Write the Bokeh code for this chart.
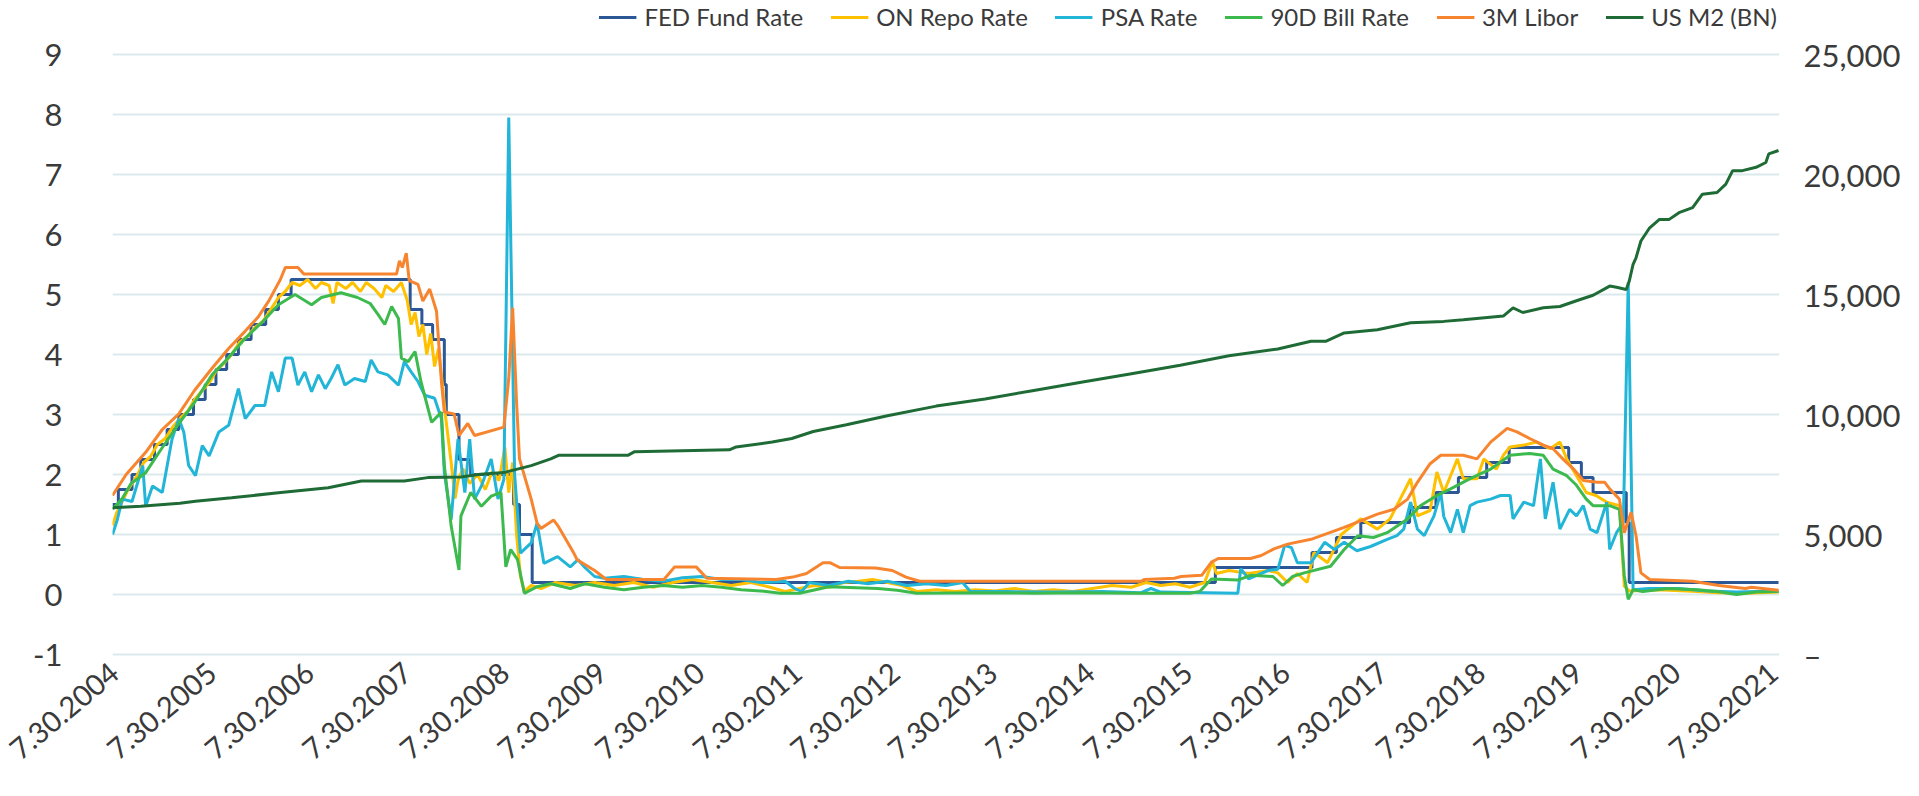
from math import pi
from bokeh.plotting import figure
from bokeh.models import Range1d, LinearAxis, FixedTicker, Legend, LegendItem
from bokeh.embed import file_html
from bokeh.resources import INLINE

# ---- x positions are decimal years ----
fed_t = [2004.56, 2004.62, 2004.76, 2004.85, 2004.99, 2005.12, 2005.24, 2005.39, 2005.51, 2005.62,
         2005.73, 2005.85, 2005.98, 2006.13, 2006.26, 2006.39, 2007.61, 2007.73, 2007.84, 2007.96,
         2007.98, 2008.11, 2008.23, 2008.67, 2008.73, 2008.86, 2015.86, 2016.85, 2017.10, 2017.35,
         2017.85, 2018.12, 2018.35, 2018.64, 2018.87, 2019.48, 2019.61, 2019.73, 2020.07, 2020.10, 2021.63]
fed_v = [1.5, 1.75, 2.0, 2.25, 2.5, 2.75, 3.0, 3.25, 3.5, 3.75,
         4.0, 4.25, 4.5, 4.75, 5.0, 5.25, 4.75, 4.5, 4.25, 3.5,
         3.0, 2.25, 2.0, 1.5, 1.0, 0.2, 0.45, 0.7, 0.95, 1.2,
         1.45, 1.7, 1.95, 2.2, 2.45, 2.2, 1.95, 1.7, 1.2, 0.2, 0.2]

repo_t = [2004.56, 2004.60, 2004.66, 2004.72, 2004.80, 2004.88, 2004.95, 2005.02, 2005.10, 2005.18,
          2005.26, 2005.33, 2005.40, 2005.48, 2005.56, 2005.63, 2005.70, 2005.78, 2005.86, 2005.94,
          2006.02, 2006.10, 2006.18, 2006.26, 2006.33, 2006.40, 2006.48, 2006.56, 2006.64, 2006.70,
          2006.78, 2006.82, 2006.86, 2006.95, 2007.02, 2007.10, 2007.16, 2007.24, 2007.32, 2007.36,
          2007.44, 2007.52, 2007.58, 2007.62, 2007.66, 2007.70, 2007.74, 2007.78, 2007.82, 2007.86,
          2007.90, 2007.94, 2007.97, 2008.00, 2008.03, 2008.07, 2008.10, 2008.15, 2008.22, 2008.30,
          2008.38, 2008.45, 2008.52, 2008.58, 2008.62, 2008.66, 2008.70, 2008.74, 2008.78, 2008.85,
          2008.95, 2009.10, 2009.30, 2009.50, 2009.70, 2009.90, 2010.10, 2010.30, 2010.50, 2010.70,
          2010.90, 2011.10, 2011.30, 2011.45, 2011.60, 2011.75, 2011.90, 2012.05, 2012.20, 2012.35,
          2012.50, 2012.65, 2012.80, 2013.00, 2013.20, 2013.40, 2013.60, 2013.80, 2014.00, 2014.20,
          2014.40, 2014.60, 2014.80, 2015.00, 2015.15, 2015.30, 2015.45, 2015.60, 2015.75, 2015.83,
          2015.87, 2016.00, 2016.20, 2016.40, 2016.50, 2016.60, 2016.70, 2016.80, 2016.87, 2017.01,
          2017.15, 2017.35, 2017.52, 2017.65, 2017.86, 2017.93, 2018.06, 2018.13, 2018.20, 2018.34,
          2018.40, 2018.54, 2018.61, 2018.74, 2018.81, 2018.88, 2019.02, 2019.15, 2019.29, 2019.39,
          2019.46, 2019.56, 2019.66, 2019.76, 2019.87, 2020.00, 2020.05, 2020.10, 2020.40, 2020.80,
          2021.00, 2021.30, 2021.63]
repo_v = [1.15, 1.35, 1.55, 1.75, 1.95, 2.2, 2.3, 2.5, 2.6, 2.8,
          2.95, 3.05, 3.25, 3.4, 3.55, 3.75, 3.85, 4.0, 4.2, 4.3,
          4.45, 4.55, 4.75, 4.95, 5.05, 5.2, 5.15, 5.25, 5.1, 5.2,
          5.15, 4.85, 5.2, 5.1, 5.2, 5.05, 5.2, 5.1, 4.95, 5.15,
          5.05, 5.2, 4.9, 4.5, 4.7, 4.3, 4.5, 4.0, 4.35, 3.8,
          4.1, 3.5, 3.0, 2.6, 2.2, 1.6, 1.9, 2.1, 1.85, 2.0,
          1.75, 2.05, 1.9, 2.45, 1.7, 2.2, 1.0, 0.3, 0.05, 0.15,
          0.1, 0.2, 0.15, 0.2, 0.15, 0.2, 0.12, 0.2, 0.25, 0.2,
          0.15, 0.2, 0.12, 0.05, 0.1, 0.15, 0.12, 0.2, 0.22, 0.25,
          0.2, 0.15, 0.05, 0.08, 0.05, 0.08, 0.06, 0.1, 0.05, 0.08,
          0.05, 0.1, 0.15, 0.12, 0.2, 0.15, 0.18, 0.12, 0.2, 0.55,
          0.35, 0.4, 0.35, 0.4, 0.36, 0.2, 0.35, 0.2, 0.7, 0.53,
          1.0, 1.26, 1.09, 1.26, 1.93, 1.31, 1.4, 2.04, 1.7, 2.26,
          1.93, 1.93, 2.26, 2.09, 2.32, 2.46, 2.49, 2.54, 2.43, 2.54,
          2.26, 1.98, 1.7, 1.65, 1.54, 1.48, 0.14, 0.06, 0.08, 0.05,
          0.03, 0.02, 0.04]

psa_t = [2004.56, 2004.61, 2004.66, 2004.76, 2004.87, 2004.90, 2004.97, 2005.07, 2005.17, 2005.24,
         2005.29, 2005.34, 2005.41, 2005.48, 2005.55, 2005.65, 2005.75, 2005.85, 2005.92, 2006.02,
         2006.12, 2006.19, 2006.26, 2006.33, 2006.40, 2006.46, 2006.53, 2006.60, 2006.67, 2006.74,
         2006.80, 2006.87, 2006.94, 2007.04, 2007.15, 2007.21, 2007.28, 2007.38, 2007.49, 2007.55,
         2007.62, 2007.69, 2007.76, 2007.86, 2007.93, 2007.96, 2008.03, 2008.10, 2008.17, 2008.22,
         2008.27, 2008.34, 2008.44, 2008.51, 2008.57, 2008.62, 2008.68, 2008.74, 2008.85, 2008.91,
         2008.98, 2009.12, 2009.25, 2009.33, 2009.40, 2009.50, 2009.60, 2009.80, 2010.00, 2010.20,
         2010.40, 2010.60, 2010.80, 2011.00, 2011.20, 2011.45, 2011.55, 2011.62, 2011.70, 2011.90,
         2012.10, 2012.30, 2012.50, 2012.70, 2012.90, 2013.10, 2013.27, 2013.35, 2013.70, 2014.20,
         2014.70, 2015.10, 2015.20, 2015.30, 2016.09, 2016.12, 2016.20, 2016.40, 2016.50, 2016.57,
         2016.64, 2016.70, 2016.84, 2016.98, 2017.08, 2017.18, 2017.31, 2017.45, 2017.62, 2017.72,
         2017.79, 2017.86, 2017.93, 2018.00, 2018.10, 2018.17, 2018.20, 2018.27, 2018.34, 2018.40,
         2018.47, 2018.54, 2018.68, 2018.78, 2018.88, 2018.91, 2019.02, 2019.12, 2019.19, 2019.24,
         2019.32, 2019.39, 2019.49, 2019.56, 2019.63, 2019.70, 2019.77, 2019.87, 2019.90, 2019.97,
         2020.04, 2020.09, 2020.14, 2020.30, 2020.60, 2020.90, 2021.20, 2021.40, 2021.63]
psa_v = [1.0, 1.25, 1.59, 1.55, 2.15, 1.47, 1.81, 1.7, 2.59, 2.93,
         2.71, 2.15, 1.98, 2.48, 2.31, 2.71, 2.82, 3.43, 2.93, 3.15,
         3.15, 3.71, 3.38, 3.94, 3.94, 3.49, 3.71, 3.38, 3.66, 3.43,
         3.6, 3.83, 3.49, 3.6, 3.55, 3.91, 3.71, 3.66, 3.49, 3.88,
         3.71, 3.55, 3.32, 3.27, 2.93, 2.03, 1.25, 2.59, 1.7, 2.59,
         1.59, 1.81, 2.26, 1.59, 1.92, 7.95, 2.0, 0.69, 0.86, 1.19,
         0.52, 0.63, 0.46, 0.58, 0.45, 0.3, 0.27, 0.3, 0.25, 0.22,
         0.28, 0.3, 0.25, 0.25, 0.2, 0.22, 0.1, 0.05, 0.2, 0.15,
         0.22, 0.18, 0.22, 0.15, 0.18, 0.15, 0.2, 0.05, 0.05, 0.04,
         0.05, 0.03, 0.1, 0.04, 0.02, 0.43, 0.26, 0.4, 0.42, 0.82,
         0.78, 0.53, 0.53, 0.87, 0.75, 0.87, 0.73, 0.8, 0.92, 0.98,
         1.09, 1.54, 1.09, 0.98, 1.31, 1.7, 1.3, 1.03, 1.42, 1.03,
         1.48, 1.54, 1.59, 1.65, 1.65, 1.26, 1.54, 1.48, 2.26, 1.26,
         1.87, 1.09, 1.42, 1.31, 1.48, 1.09, 1.03, 1.54, 0.75, 1.03,
         1.2, 5.2, 0.08, 0.1, 0.1, 0.06, 0.04, 0.05, 0.05]

bill_t = [2004.56, 2004.66, 2004.75, 2004.90, 2005.05, 2005.24, 2005.40, 2005.58, 2005.75, 2005.92,
          2006.10, 2006.26, 2006.43, 2006.60, 2006.70, 2006.90, 2007.07, 2007.20, 2007.28, 2007.35,
          2007.42, 2007.49, 2007.52, 2007.59, 2007.66, 2007.72, 2007.83, 2007.93, 2007.96, 2008.03,
          2008.11, 2008.13, 2008.23, 2008.34, 2008.44, 2008.54, 2008.59, 2008.64, 2008.71, 2008.78,
          2008.91, 2009.05, 2009.25, 2009.40, 2009.60, 2009.80, 2010.00, 2010.20, 2010.40, 2010.60,
          2010.80, 2011.00, 2011.20, 2011.40, 2011.60, 2011.90, 2012.40, 2012.60, 2012.80, 2013.50,
          2014.00, 2014.50, 2015.00, 2015.60, 2015.70, 2015.82, 2016.09, 2016.22, 2016.45, 2016.55,
          2016.65, 2016.77, 2017.04, 2017.18, 2017.32, 2017.48, 2017.62, 2017.83, 2017.96, 2018.13,
          2018.27, 2018.47, 2018.68, 2018.88, 2019.08, 2019.22, 2019.32, 2019.46, 2019.56, 2019.66,
          2019.73, 2019.90, 2020.00, 2020.05, 2020.09, 2020.14, 2020.24, 2020.50, 2020.80, 2021.00,
          2021.20, 2021.40, 2021.63]
bill_v = [1.42, 1.6, 1.85, 2.03, 2.4, 2.85, 3.2, 3.66, 3.95, 4.27,
          4.55, 4.83, 5.0, 4.83, 4.95, 5.03, 4.95, 4.85, 4.67, 4.5,
          4.8, 4.6, 3.94, 3.88, 4.05, 3.55, 2.87, 3.04, 2.15, 1.14,
          0.41, 1.31, 1.7, 1.47, 1.64, 1.7, 0.46, 0.75, 0.58, 0.02,
          0.13, 0.18, 0.1, 0.18, 0.12, 0.08, 0.12, 0.15, 0.12, 0.15,
          0.12, 0.08, 0.06, 0.02, 0.02, 0.13, 0.1, 0.07, 0.02, 0.03,
          0.02, 0.03, 0.02, 0.02, 0.05, 0.26, 0.24, 0.32, 0.3, 0.15,
          0.3, 0.36, 0.47, 0.75, 0.98, 0.95, 1.03, 1.26, 1.48, 1.65,
          1.76, 1.93, 2.09, 2.32, 2.35, 2.32, 2.09, 1.98, 1.82, 1.59,
          1.48, 1.48, 1.42, 0.31, -0.08, 0.08, 0.05, 0.1, 0.08, 0.05,
          0.0, 0.04, 0.05]

libor_t = [2004.56, 2004.70, 2004.90, 2005.07, 2005.24, 2005.40, 2005.58, 2005.75, 2005.92, 2006.05,
           2006.16, 2006.28, 2006.33, 2006.46, 2006.52, 2006.60, 2007.47, 2007.50, 2007.53, 2007.57,
           2007.60, 2007.69, 2007.74, 2007.81, 2007.88, 2007.93, 2007.96, 2008.06, 2008.11, 2008.20,
           2008.27, 2008.57, 2008.62, 2008.66, 2008.70, 2008.73, 2008.85, 2008.91, 2008.95, 2009.08,
           2009.13, 2009.28, 2009.32, 2009.50, 2009.62, 2010.21, 2010.32, 2010.54, 2010.65, 2011.36,
           2011.53, 2011.67, 2011.84, 2011.91, 2012.01, 2012.38, 2012.55, 2012.69, 2012.83, 2015.10,
           2015.13, 2015.44, 2015.51, 2015.72, 2015.82, 2015.89, 2016.22, 2016.33, 2016.46, 2016.60,
           2016.84, 2017.18, 2017.52, 2017.69, 2017.83, 2017.93, 2018.06, 2018.17, 2018.40, 2018.54,
           2018.68, 2018.85, 2018.95, 2019.08, 2019.22, 2019.32, 2019.42, 2019.53, 2019.63, 2019.77,
           2019.85, 2019.90, 2020.00, 2020.05, 2020.12, 2020.17, 2020.22, 2020.31, 2020.75, 2021.02,
           2021.29, 2021.35, 2021.63]
libor_v = [1.65, 2.0, 2.37, 2.75, 3.01, 3.4, 3.77, 4.1, 4.39, 4.62,
           4.89, 5.25, 5.45, 5.45, 5.34, 5.34, 5.34, 5.56, 5.45, 5.69,
           5.23, 5.17, 4.89, 5.09, 4.72, 3.55, 3.04, 3.01, 2.65, 2.85,
           2.65, 2.79, 3.6, 4.78, 3.2, 2.26, 1.59, 1.19, 1.1, 1.24,
           1.13, 0.71, 0.58, 0.4, 0.25, 0.25, 0.46, 0.46, 0.27, 0.25,
           0.29, 0.35, 0.53, 0.53, 0.45, 0.44, 0.4, 0.29, 0.22, 0.22,
           0.25, 0.27, 0.3, 0.32, 0.54, 0.6, 0.6, 0.65, 0.76, 0.84,
           0.92, 1.12, 1.34, 1.42, 1.59, 1.87, 2.18, 2.32, 2.32, 2.26,
           2.54, 2.77, 2.71, 2.6, 2.49, 2.43, 2.26, 2.09, 1.9, 1.87,
           1.87, 1.76, 1.59, 1.03, 1.37, 0.98, 0.36, 0.25, 0.22, 0.15,
           0.1, 0.12, 0.07]

m2_t = [2004.56, 2004.85, 2005.25, 2005.41, 2005.78, 2006.26, 2006.77, 2007.11, 2007.55, 2007.79,
        2008.13, 2008.33, 2008.57, 2008.85, 2009.05, 2009.13, 2009.84, 2009.91, 2010.88, 2010.95,
        2011.32, 2011.52, 2011.74, 2012.08, 2012.50, 2013.00, 2013.50, 2014.00, 2014.50, 2015.00,
        2015.50, 2016.00, 2016.50, 2016.84, 2016.99, 2017.18, 2017.52, 2017.86, 2018.20, 2018.40,
        2018.81, 2018.91, 2019.01, 2019.22, 2019.39, 2019.56, 2019.73, 2019.90, 2019.97, 2020.07,
        2020.10, 2020.14, 2020.17, 2020.22, 2020.31, 2020.41, 2020.51, 2020.61, 2020.75, 2020.85,
        2021.00, 2021.09, 2021.16, 2021.26, 2021.40, 2021.50, 2021.53, 2021.63]
m2_v = [6110, 6180, 6300, 6390, 6530, 6740, 6950, 7230, 7230, 7370,
        7400, 7510, 7580, 7870, 8150, 8300, 8300, 8450, 8530, 8650,
        8850, 9000, 9290, 9570, 9950, 10350, 10650, 11000, 11350, 11700,
        12050, 12450, 12730, 13050, 13050, 13400, 13530, 13820, 13880, 13950,
        14100, 14440, 14250, 14450, 14500, 14740, 14970, 15350, 15300, 15210,
        15550, 16260, 16530, 17230, 17780, 18130, 18130, 18410, 18620, 19180,
        19250, 19600, 20160, 20160, 20300, 20500, 20860, 21000]

year_ticks = [2004.58 + k for k in range(18)]
year_labels = ["7.30.%d" % (2004 + k) for k in range(18)]
left_ticks = [-1, 0, 1, 2, 3, 4, 5, 6, 7, 8, 9]
left_labels = ["-1", "0", "1", "2", "3", "4", "5", "6", "7", "8", "9"]
right_ticks = [0, 5000, 10000, 15000, 20000, 25000]
right_labels = ["–", "5,000", "10,000", "15,000", "20,000", "25,000"]

names = ["FED Fund Rate", "ON Repo Rate", "PSA Rate", "90D Bill Rate", "3M Libor", "US M2 (BN)"]
colors = ["#2B5797", "#FFC000", "#22B5D8", "#3DBA4E", "#F7852F", "#1E6B36"]

FONT = "Lato"
TXT = "#3A3A3A"

# The frame keeps 60 px per unit on the left scale.  It reaches up to the top of the
# figure (the legend sits there, above 9) and a little below -1; gridlines and tick
# labels are only drawn for -1..9, as in the original.
Y_LO, Y_HI = -1.15, 9.9
p = figure(width=1903, height=780, output_backend="svg", toolbar_location=None,
           x_range=Range1d(2004.56, 2021.64), y_range=Range1d(Y_LO, Y_HI),
           min_border_left=112, min_border_right=124, min_border_top=0, min_border_bottom=117)
p.extra_y_ranges = {"m2": Range1d((Y_LO + 1) * 2500, (Y_HI + 1) * 2500)}
p.outline_line_color = None
p.background_fill_color = "white"
p.xgrid.visible = False
p.ygrid.grid_line_color = "#DCE9EC"
p.ygrid.grid_line_width = 2
p.ygrid.ticker = FixedTicker(ticks=left_ticks)

W = 3
r_fed = p.step(fed_t, fed_v, mode="after", line_color=colors[0], line_width=W)
r_repo = p.line(repo_t, repo_v, line_color=colors[1], line_width=W)
r_psa = p.line(psa_t, psa_v, line_color=colors[2], line_width=W)
r_bill = p.line(bill_t, bill_v, line_color=colors[3], line_width=W)
r_lib = p.line(libor_t, libor_v, line_color=colors[4], line_width=W)
r_m2 = p.line(m2_t, m2_v, line_color=colors[5], line_width=W, y_range_name="m2")

xa = p.xaxis[0]
xa.ticker = FixedTicker(ticks=year_ticks)
xa.major_label_overrides = {t: l for t, l in zip(year_ticks, year_labels)}
xa.major_label_orientation = 0.70
xa.major_label_standoff = 5
xa.major_label_text_font_size = "29px"

ya = p.yaxis[0]
ya.ticker = FixedTicker(ticks=left_ticks)
ya.major_label_overrides = {t: l for t, l in zip(left_ticks, left_labels)}
ya.major_label_standoff = 50
ya.major_label_text_font_size = "31px"

ra = LinearAxis(y_range_name="m2", ticker=FixedTicker(ticks=right_ticks))
ra.major_label_overrides = {t: l for t, l in zip(right_ticks, right_labels)}
ra.major_label_standoff = 24
ra.major_label_text_font_size = "31px"
p.add_layout(ra, "right")

for ax in [xa, ya, ra]:
    ax.axis_line_color = None
    ax.major_tick_line_color = None
    ax.minor_tick_line_color = None
    ax.major_tick_out = 0
    ax.major_tick_in = 0
    ax.major_label_text_font = FONT
    ax.major_label_text_color = TXT

items = [LegendItem(label=n, renderers=[r]) for n, r in
         zip(names, [r_fed, r_repo, r_psa, r_bill, r_lib, r_m2])]
leg = Legend(items=items, orientation="horizontal", location="top_right",
             label_text_font=FONT, label_text_font_size="24px", label_text_color=TXT,
             glyph_width=38, glyph_height=20, label_standoff=8, spacing=27,
             padding=0, margin=2, border_line_color=None, background_fill_alpha=0)
p.add_layout(leg, "center")

open("out.html", "w").write(file_html(p, INLINE))
